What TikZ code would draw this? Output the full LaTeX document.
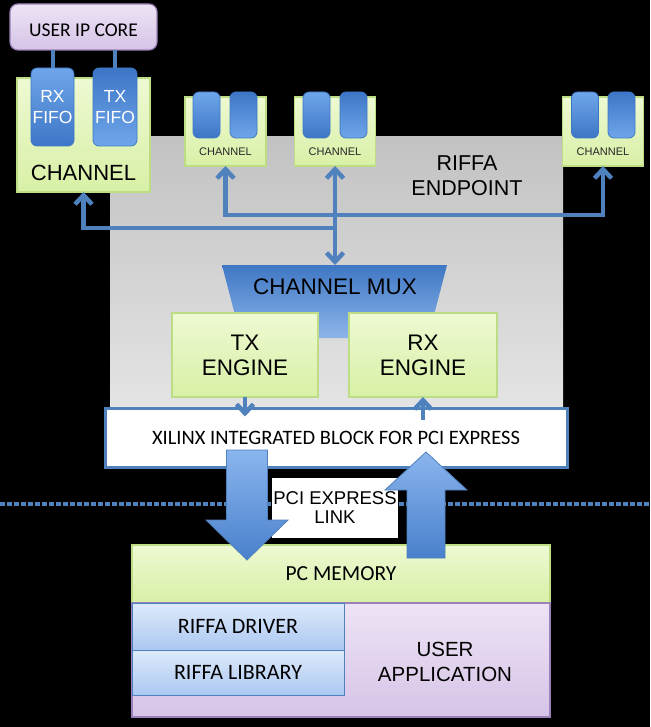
\documentclass[tikz,border=0pt]{standalone}
\usepackage{fontspec}
\setmainfont{Liberation Sans}
\newfontfamily\calibri{Carlito}
\usetikzlibrary{arrows.meta}
\definecolor{busblue}{HTML}{4F81BD}
\definecolor{fifotop}{HTML}{6FA6EA}
\definecolor{fifobot}{HTML}{3D76C6}
\definecolor{greentop}{HTML}{EEF9D2}
\definecolor{greenbot}{HTML}{D8F0A6}
\definecolor{greenedge}{HTML}{BCDD84}
\definecolor{graytop}{HTML}{C2C2C2}
\definecolor{graybot}{HTML}{E4E4E4}
\definecolor{purptop}{HTML}{EDE3F5}
\definecolor{purpbot}{HTML}{D6C4E7}
\definecolor{purpedge}{HTML}{9A82B8}
\definecolor{drvtop}{HTML}{DEEAFB}
\definecolor{drvbot}{HTML}{ABC8F1}
\definecolor{muxtop}{HTML}{3F77C4}
\definecolor{muxbot}{HTML}{8DB5EA}
\definecolor{arrtop}{HTML}{8AB5EE}
\definecolor{arrbot}{HTML}{4A80CC}
\tikzset{
  greenbox/.style={shade, top color=greentop, bottom color=greenbot, draw=greenedge, line width=1.5pt, inner sep=0pt, outer sep=0pt},
  fifo/.style={shade, top color=fifotop, bottom color=fifobot, draw=fifobot, line width=0.8pt, rounded corners=6pt, inner sep=0pt, outer sep=0pt, text=white, align=center, font=\fontsize{17.5}{21}\selectfont},
  fifoalt/.style={fifo, top color=fifobot, bottom color=fifotop},
  purplebox/.style={shade, top color=purptop, bottom color=purpbot, draw=purpedge, line width=1.2pt, inner sep=0pt, outer sep=0pt},
  bluebox/.style={shade, top color=drvtop, bottom color=drvbot, draw=busblue, line width=1pt, inner sep=0pt, outer sep=0pt},
  bus/.style={draw=busblue, line width=4.5pt, >={Straight Barb[length=9pt,width=17pt]}},
  bigarrow/.style={top color=arrtop, bottom color=arrbot, draw=busblue, line width=0.8pt},
  arialtxt/.style={font=\fontsize{#1}{25}\selectfont, align=center, inner sep=0pt},
  calitxt/.style={font=\calibri\fontsize{#1}{25}\selectfont, align=center, inner sep=0pt}
}
\begin{document}
\begin{tikzpicture}[x=1pt,y=-1pt]
	\fill[black] (0,0) rectangle (650,727);
	\useasboundingbox (0,0) rectangle (650,727);

	\node[shade, top color=graytop, bottom color=graybot, minimum width=453pt, minimum height=271pt, inner sep=0pt] (endpoint) at (336.5,272.5) {};
	\node[arialtxt=21.5] (endlbl) at (467,175.5) {RIFFA\\ENDPOINT};

	\node[purplebox, rounded corners=8pt, minimum width=147pt, minimum height=46pt] (ipcore) at (83.5,27) {};
	\node[calitxt=19.5] (ipcorelbl) at (83.5,30) {USER IP CORE};
	\node[greenbox, minimum width=133pt, minimum height=114pt] (chan1) at (83.5,135) {};
	\node[arialtxt=22] (chan1lbl) at (83.5,173) {CHANNEL};
	\node[fifo, minimum width=43pt, minimum height=78pt] (rxfifo) at (52.5,107) {RX\\FIFO};
	\node[fifoalt, minimum width=44pt, minimum height=78pt] (txfifo) at (115,107) {TX\\FIFO};
	\draw[busblue, line width=4pt] (ipcore.south -| rxfifo.north) -- (rxfifo.north);
	\draw[busblue, line width=4pt] (ipcore.south -| txfifo.north) -- (txfifo.north);

	\node[greenbox, minimum width=81pt, minimum height=69pt] (ch2) at (225.5,131.5) {};
	\node[fifo, minimum width=27pt, minimum height=46pt] (ch2a) at (206.5,115) {};
	\node[fifoalt, minimum width=27pt, minimum height=46pt] (ch2b) at (243.5,115) {};
	\node[arialtxt=11, text=black!85] (ch2lbl) at (225.5,152) {CHANNEL};
	\node[greenbox, minimum width=81pt, minimum height=69pt] (ch3) at (335,131.5) {};
	\node[fifo, minimum width=27pt, minimum height=46pt] (ch3a) at (316.5,115) {};
	\node[fifoalt, minimum width=27pt, minimum height=46pt] (ch3b) at (353.5,115) {};
	\node[arialtxt=11, text=black!85] (ch3lbl) at (335,152) {CHANNEL};
	\node[greenbox, minimum width=81pt, minimum height=69pt] (ch4) at (603,131.5) {};
	\node[fifo, minimum width=27pt, minimum height=46pt] (ch4a) at (585,115) {};
	\node[fifoalt, minimum width=27pt, minimum height=46pt] (ch4b) at (621.5,115) {};
	\node[arialtxt=11, text=black!85] (ch4lbl) at (603,152) {CHANNEL};

	\shade[top color=muxtop, bottom color=muxbot] (222,265) -- (447,265) -- (428,338) -- (241,338) -- cycle;
	\coordinate (mux) at (335,265);
	\node[arialtxt=22.5] (muxlbl) at (335,287) {CHANNEL MUX};
	\node[greenbox, minimum width=146pt, minimum height=84pt, arialtxt=22.5] (txeng) at (245,355) {TX\\ENGINE};
	\node[greenbox, minimum width=148pt, minimum height=84pt, arialtxt=22.5] (rxeng) at (423,355) {RX\\ENGINE};

	\coordinate (j1) at (335,215);
	\coordinate (j2) at (335,228);
	\draw[bus, ->] (j1) -| (ch2.south);
	\draw[bus, ->] (j1) -| (ch4.south);
	\draw[bus, ->] (j2) -| (chan1.south);
	\draw[bus, <->] (ch3.south) -- (mux);

	\draw[busblue, line width=4.5pt, dash pattern=on 4.5pt off 2.5pt] (0,504) -- (650,504);
	\node[fill=white, draw=busblue, line width=3pt, minimum width=462pt, minimum height=59pt, calitxt=20.5] (xilinx) at (336,437.5) {XILINX INTEGRATED BLOCK FOR PCI EXPRESS};
	\draw[bus, ->] (txeng.south) -- ([yshift=-10pt]txeng.south |- xilinx.north);
	\draw[bus, ->] ([yshift=-13pt]rxeng.south |- xilinx.north) -- (rxeng.south);
	\node[fill=white, minimum width=126pt, minimum height=60pt, arialtxt=18, font=\fontsize{18.5}{19}\selectfont] (linkbox) at (335,508) {PCI EXPRESS\\LINK};

	\node[greenbox, minimum width=418pt, minimum height=58pt, calitxt=21.5] (pcmem) at (341,574) {PC MEMORY};
	\node[purplebox, minimum width=418pt, minimum height=114pt] (userapp) at (341,660) {};
	\node[arialtxt=20.5] (userlbl) at (445,662) {USER\\APPLICATION};
	\node[bluebox, minimum width=212pt, minimum height=47pt, calitxt=22] (driver) at (238,626.5) {RIFFA DRIVER};
	\node[bluebox, minimum width=212pt, minimum height=45pt, calitxt=22] (library) at (238,672.5) {RIFFA LIBRARY};

	\shade[bigarrow] (226.5,450) -- (267.5,450) -- (267.5,520) -- (288,520) -- (247,560) -- (206,520) -- (226.5,520) -- cycle;
	\shade[bigarrow] (407,558) -- (407,490) -- (385,490) -- (426,452) -- (467,490) -- (445,490) -- (445,558) -- cycle;
\end{tikzpicture}
\end{document}
